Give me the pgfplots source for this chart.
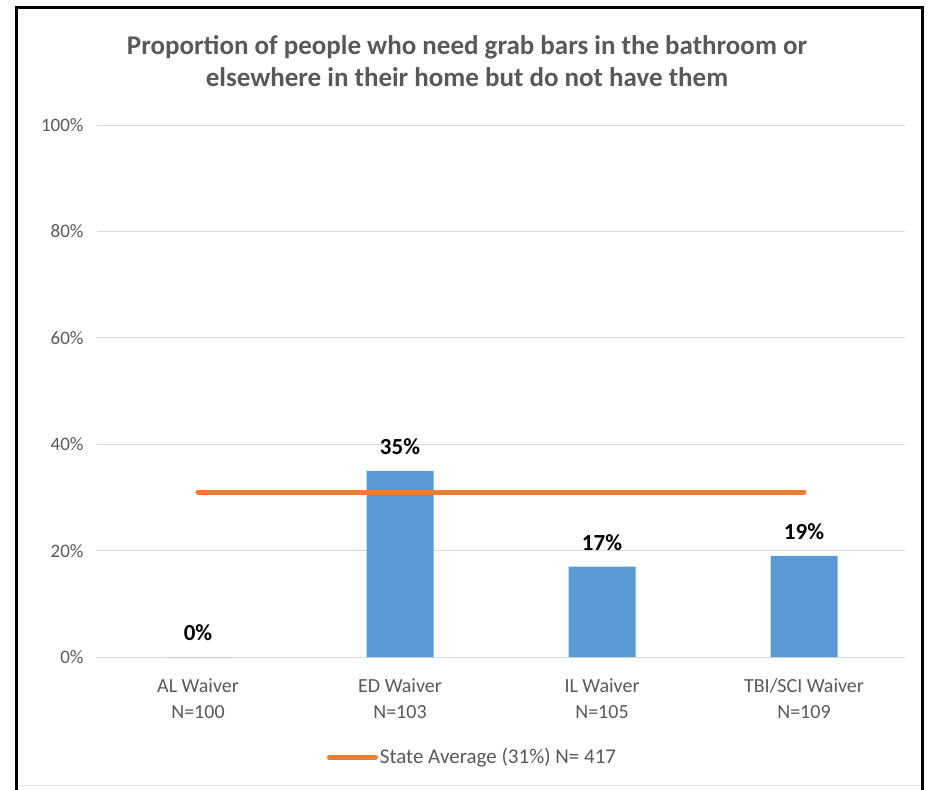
\documentclass[border=0pt]{standalone}
\usepackage{pgfplots}
\pgfplotsset{compat=1.18}
\usepackage{fontspec}
\setmainfont{Carlito}
\definecolor{barblue}{HTML}{5B9BD5}
\definecolor{lineorange}{HTML}{ED7D31}
\definecolor{txtgrey}{HTML}{595959}
\definecolor{gridgrey}{HTML}{D9D9D9}
\begin{document}
\begin{tikzpicture}
\path[use as bounding box, fill=white] (0,0) rectangle (932bp,-790bp);
\draw[black, line width=3bp] (16bp,-790bp) -- (16bp,-7bp) -- (922bp,-7bp) -- (922bp,-790bp);
\draw[gridgrey!60, line width=1bp] (17.5bp,-785bp) -- (920.5bp,-785bp);
\node[align=center, text=txtgrey, font=\fontsize{27bp}{32bp}\selectfont\bfseries] at (467bp,-61bp)
 {Proportion of people who need grab bars in the bathroom or\\elsewhere in their home but do not have them};
\begin{axis}[
  at={(97bp,-657bp)}, anchor=south west,
  scale only axis, width=808bp, height=532bp,
  xmin=-0.5, xmax=3.5, ymin=0, ymax=100,
  ytick={0,20,40,60,80,100},
  yticklabel={\pgfmathprintnumber{\tick}\%},
  /pgf/number format/assume math mode=true,
  xtick={0,1,2,3},
  xticklabels={{AL Waiver\\N=100},{ED Waiver\\N=103},{IL Waiver\\N=105},{TBI/SCI Waiver\\N=109}},
  xticklabel style={align=center, text=txtgrey, font=\fontsize{20bp}{26bp}\selectfont, yshift=-18bp},
  yticklabel style={text=txtgrey, font=\fontsize{19bp}{23bp}\selectfont, xshift=-10bp},
  ymajorgrids, grid style={draw=gridgrey, line width=1bp},
  axis line style={draw=none},
  major tick length=0pt,
  legend style={draw=none, fill=none, at={(0.4647,-0.188)}, anchor=center,
    font=\fontsize{21bp}{24bp}\selectfont, text=txtgrey, inner sep=0pt,
    /tikz/every even column/.style={column sep=0pt}},
  legend cell align=left,
  legend image code/.code={\draw[#1] (0bp,0bp) -- (46bp,0bp);},
]
\addplot[ybar, bar width=67bp, bar shift=0pt, fill=barblue, draw=none, forget plot,
  nodes near coords={\pgfmathprintnumber{\pgfplotspointmeta}\%},
  nodes near coords align={center},
  every node near coord/.append style={text=black, font=\fontsize{23bp}{26bp}\selectfont\bfseries, yshift=24bp}]
  coordinates {(0,0) (1,35) (2,17) (3,19)};
\addplot[lineorange, line width=5bp, line cap=round] coordinates {(0,31) (3,31)};
\addlegendentry{State Average (31\%) N= 417}
\end{axis}
\end{tikzpicture}
\end{document}
